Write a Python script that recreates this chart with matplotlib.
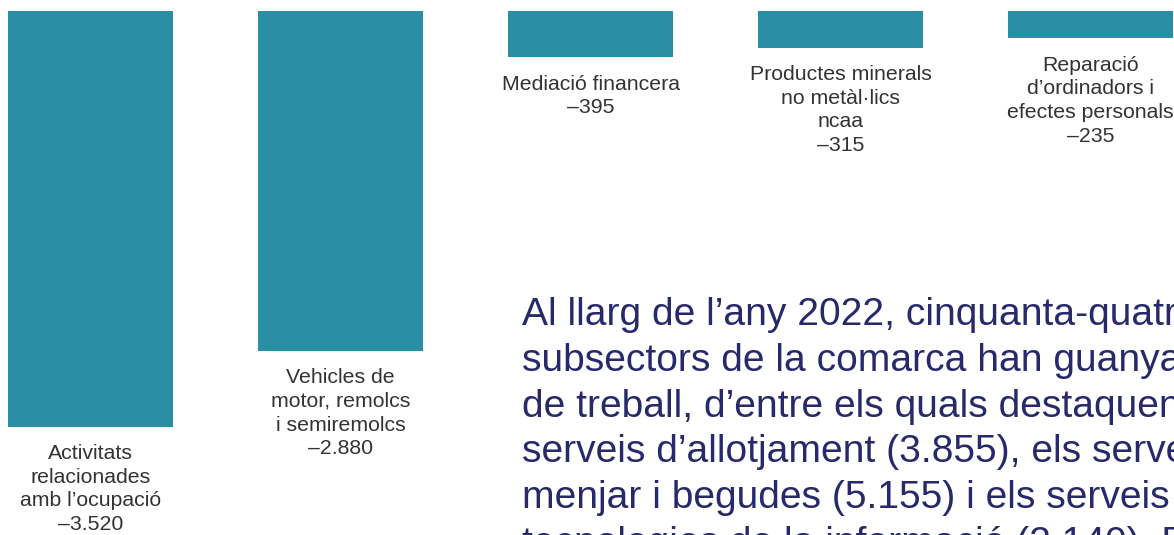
import matplotlib.pyplot as plt

# Subsectors that lost jobs (2022)
sectors = [
    "Activitats\nrelacionades\namb l\u2019ocupaci\u00f3",
    "Vehicles de\nmotor, remolcs\ni semiremolcs",
    "Mediaci\u00f3 financera",
    "Productes minerals\nno met\u00e0l\u00b7lics\nncaa",
    "Reparaci\u00f3\nd\u2019ordinadors i\nefectes personals",
]
values = [-3520, -2880, -395, -315, -235]

paragraph = [
    "Al llarg de l\u2019any 2022, cinquanta-quatre",
    "subsectors de la comarca han guanyat llocs",
    "de treball, d\u2019entre els quals destaquen els",
    "serveis d\u2019allotjament (3.855), els serveis de",
    "menjar i begudes (5.155) i els serveis de",
    "tecnologies de la informaci\u00f3 (2.140). Els",
]

barColor = "#2a8fa4"
textColor = "#333333"
navy = "#27296a"

plt.rcParams['font.family'] = ['Liberation Sans', 'DejaVu Sans']

fig = plt.figure(figsize=(11.74, 5.35), dpi=100)
ax = fig.add_axes([0, 0, 1, 1])

xs = list(range(len(values)))
ax.bar(xs, values, width=0.66, color=barColor)

def fmt(v):
    return "\u2013" + "{:,}".format(abs(v)).replace(",", ".")

for x, v, name in zip(xs, values, sectors):
    ax.annotate(name + "\n" + fmt(v), (x, v), xytext=(0, -12.5),
                textcoords="offset points", ha="center", va="top",
                fontsize=15.3, color=textColor, linespacing=1.31,
                annotation_clip=False)

# pixel-based limits: bar centres every 250 px, zero line at 10.5 px
scale = 0.1182
ax.set_xlim(-90.5 / 250, (1174 - 90.5) / 250)
ax.set_ylim(-(535 - 10.5) / scale, 10.5 / scale)
ax.axis("off")

fig.text(522 / 1174, 1 - 297 / 535, "\n".join(paragraph), ha="left", va="top",
         fontsize=28.1, color=navy, linespacing=1.35)

fig.savefig("out.png", dpi=100)
